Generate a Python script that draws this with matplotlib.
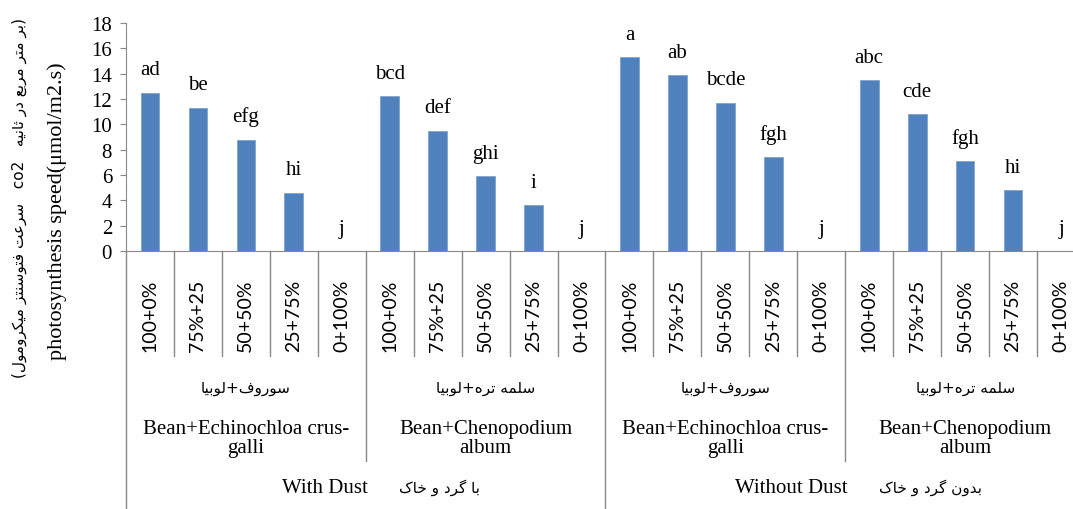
import unicodedata

import matplotlib.pyplot as plt
from matplotlib.transforms import blended_transform_factory

# ---------------------------------- data ----------------------------------
mixes = ["100+0%", "75%+25", "50+50%", "25+75%", "0+100%"]
weeds_en = ["Bean+Echinochloa crus-\ngalli", "Bean+Chenopodium\nalbum"]
weeds_fa = ["سوروف+لوبیا", "سلمه تره+لوبیا"]
dust_en = ["With Dust", "Without Dust"]
dust_fa = ["با گرد و خاک", "بدون گرد و خاک"]

dust_echino = [12.5, 11.3, 8.8, 4.6, 0.0]
dust_cheno = [12.2, 9.5, 5.9, 3.6, 0.0]
clean_echino = [15.3, 13.9, 11.7, 7.4, 0.0]
clean_cheno = [13.5, 10.8, 7.1, 4.8, 0.0]

letters = ["ad", "be", "efg", "hi", "j",
           "bcd", "def", "ghi", "i", "j",
           "a", "ab", "bcde", "fgh", "j",
           "abc", "cde", "fgh", "hi", "j"]

speed = dust_echino + dust_cheno + clean_echino + clean_cheno

# -------------------------- persian text shaping ---------------------------
NON_LEFT_JOINING = set("اآأإدذرزژوؤة")


def is_letter(ch):
    return bool(ch) and unicodedata.name(ch, "").startswith("ARABIC LETTER")


def persian(text):
    # pick contextual glyph forms and return the string in visual order
    out = []
    for i, ch in enumerate(text):
        if not is_letter(ch):
            out.append(ch)
            continue
        prev = text[i - 1] if i > 0 else ""
        nxt = text[i + 1] if i + 1 < len(text) else ""
        joins_prev = is_letter(prev) and prev not in NON_LEFT_JOINING
        joins_next = is_letter(nxt) and ch not in NON_LEFT_JOINING
        form = {(True, True): "MEDIAL", (True, False): "FINAL",
                (False, True): "INITIAL", (False, False): "ISOLATED"}[(joins_prev, joins_next)]
        try:
            out.append(unicodedata.lookup(f"{unicodedata.name(ch)} {form} FORM"))
        except KeyError:
            out.append(ch)
    return "".join(reversed(out))


serif = "Liberation Serif"
arabic = "DejaVu Sans"
grey = "#898989"
blue = "#4F81BD"

fig = plt.figure(figsize=(10.73, 5.10), dpi=100)
axes_bottom = 0.5059
ax = fig.add_axes([0.1174, axes_bottom, 0.8938, 0.4471])

x = list(range(len(speed)))
ax.bar(x, speed, width=0.39, color=blue, edgecolor="#7FA3D1", linewidth=0.6)
for xi, v, s in zip(x, speed, letters):
    ax.text(xi, v + 1.45, s, ha="center", va="baseline", fontsize=15, family=serif)

ax.set_xlim(-0.5, len(speed) - 0.5)
ax.set_ylim(0, 18)
ax.set_yticks(range(0, 19, 2))
ax.set_xticks(x)
ax.set_xticklabels(mixes * 4, rotation=90, fontsize=14, family="Lato")
ax.tick_params(axis="x", length=0, pad=20)
ax.tick_params(axis="y", direction="out", length=4, color=grey, pad=6)
for lab in ax.get_yticklabels():
    lab.set_family(serif)
    lab.set_fontsize(15)
for side in ("top", "right"):
    ax.spines[side].set_visible(False)
for side in ("left", "bottom"):
    ax.spines[side].set_color(grey)

# category separators: short between mixes, longer between weeds, full between dust levels
to_fig = blended_transform_factory(ax.transData, fig.transFigure)
for k in range(len(speed)):
    if k % 10 == 0:
        bottom = 0.0
    elif k % 5 == 0:
        bottom = 0.094
    else:
        bottom = 0.30
    ax.plot([k - 0.5, k - 0.5], [axes_bottom, bottom], transform=to_fig,
            color=grey, lw=1, clip_on=False)

# weed mixture labels
for g in range(4):
    centre = g * 5 + 2
    ax.text(centre, 0.239, persian(weeds_fa[g % 2]), transform=to_fig,
            ha="center", va="center", fontsize=11, family=arabic)
    ax.text(centre, 0.140, weeds_en[g % 2], transform=to_fig, ha="center",
            va="center", fontsize=15, family=serif, linespacing=1.0)

# dust treatment labels
for d in range(2):
    centre = d * 10 + 4.5
    ax.text(centre + 0.05, 0.043, dust_en[d], transform=to_fig, ha="right",
            va="center", fontsize=15, family=serif)
    ax.text(centre + 0.7, 0.043, persian(dust_fa[d]), transform=to_fig,
            ha="left", va="center", fontsize=11, family=arabic)

# y axis title, persian line above the english one
fa_title = ("(" + persian("سرعت فتوسنتز میکرومول") + "   co2   "
            + persian("بر متر مربع در ثانیه") + ")")
fig.text(0.0177, 0.612, fa_title, rotation=90, ha="center", va="center",
         fontsize=11, family=[arabic])
fig.text(0.053, 0.586, "photosynthesis speed(\u03bcmol/m2.s)", rotation=90,
         ha="center", va="center", fontsize=16, family=serif)

fig.savefig("out.png", dpi=100)
